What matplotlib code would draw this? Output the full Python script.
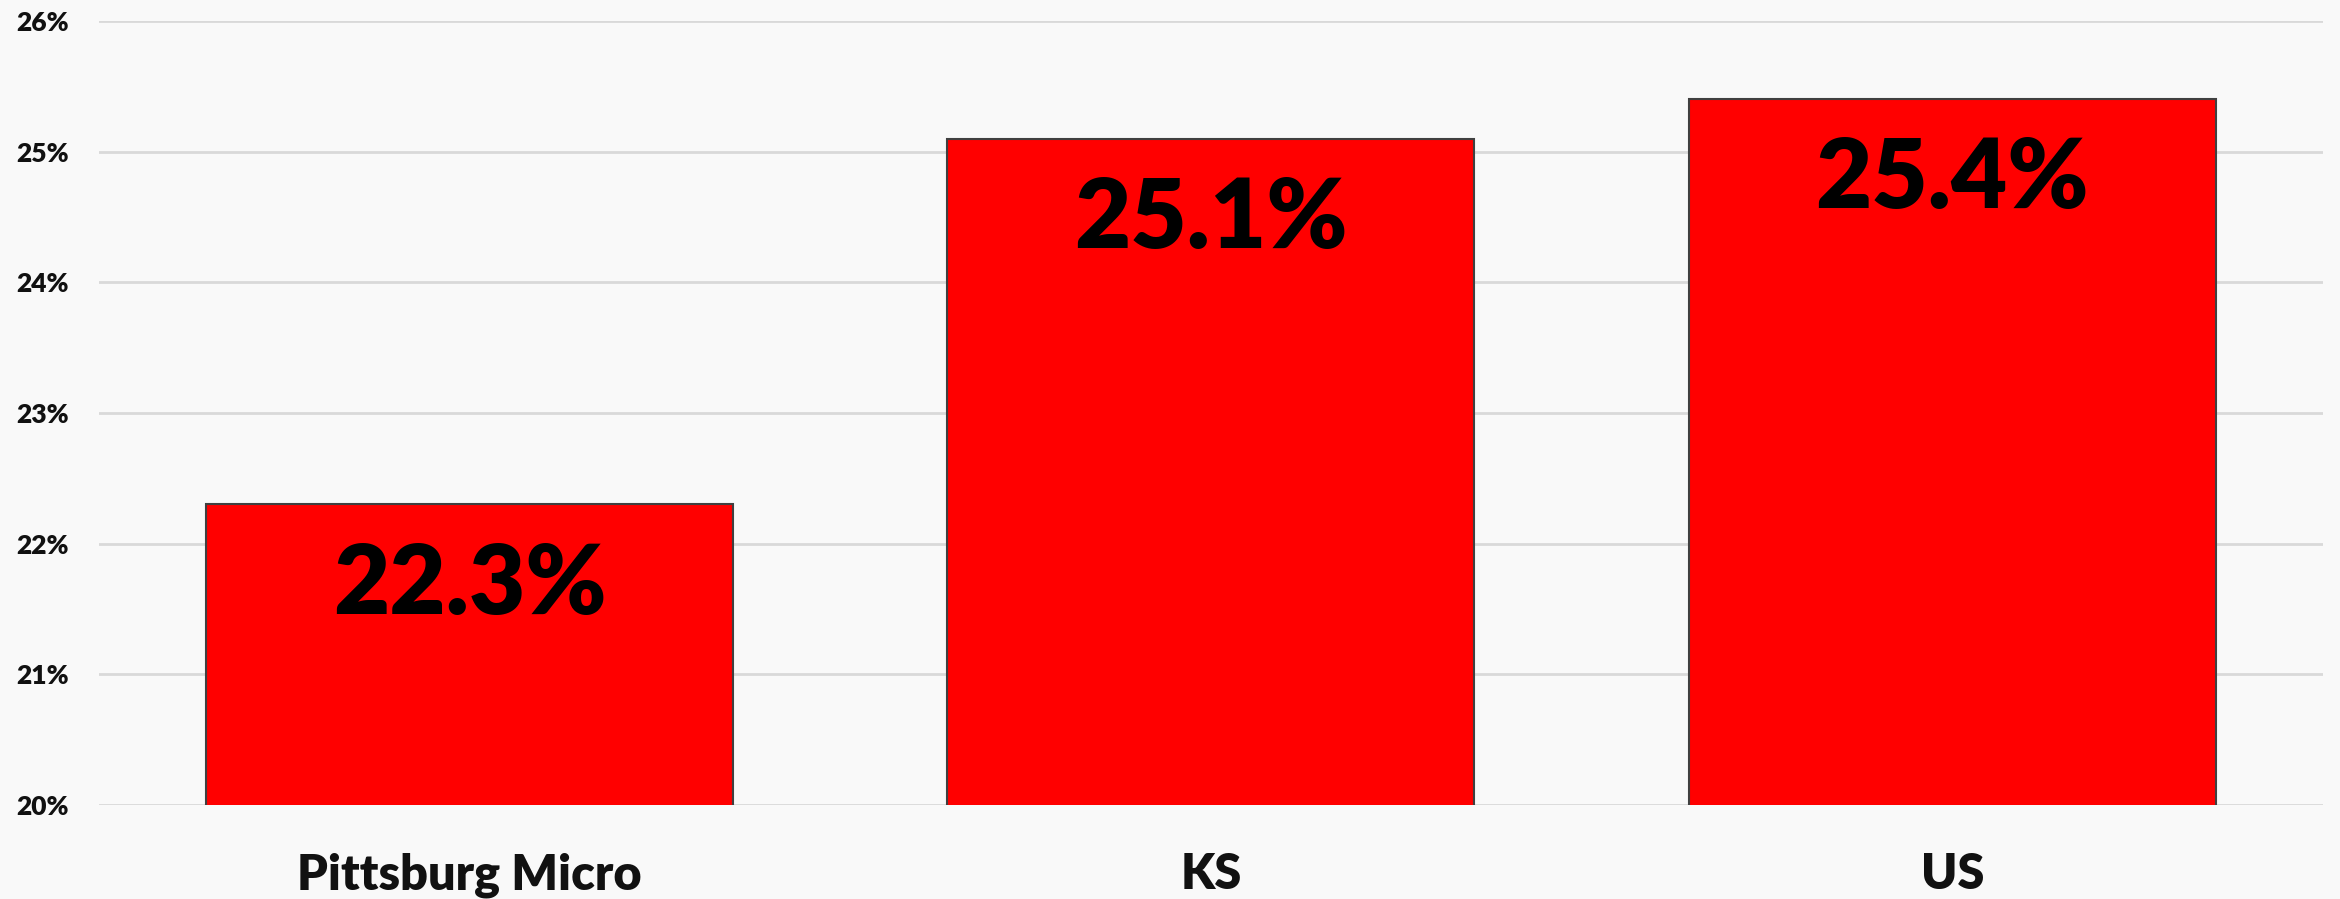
import matplotlib
matplotlib.use("Agg")
import matplotlib.pyplot as plt

categories = ["Pittsburg Micro", "KS", "US"]
values = [22.3, 25.1, 25.4]
y_ticks = [20, 21, 22, 23, 24, 25, 26]

plt.rcParams['font.family'] = ['Lato', 'DejaVu Sans']

fig = plt.figure(figsize=(23.4, 8.99), dpi=100, facecolor='#f9f9f9')
ax = fig.add_axes([0.0423, 0.1046, 0.9504, 0.872])
ax.set_facecolor('#f9f9f9')

x = range(len(categories))
bars = ax.bar(x, values, width=0.711, bottom=0, color='#ff0000',
              edgecolor='#404040', linewidth=1.5, zorder=3)

for xi, v in zip(x, values):
    ax.annotate(f"{v:.1f}%", xy=(xi, v), xytext=(0, -58),
                textcoords='offset points', ha='center', va='center',
                fontsize=70, fontweight='heavy', color='black', zorder=4)

ax.set_xlim(-0.5, len(categories) - 0.5)
ax.set_ylim(20, 26)
ax.set_yticks(y_ticks)
ax.set_yticklabels([f"{t}%" for t in y_ticks], fontsize=19, fontweight='heavy',
                   color='#111111')
ax.set_xticks(list(x))
ax.set_xticklabels(categories, fontsize=35, fontweight='heavy', color='#111111')

ax.grid(axis='y', color='#d9d9d9', linewidth=2, zorder=0)
ax.tick_params(axis='both', length=0)
ax.tick_params(axis='y', pad=22)
ax.tick_params(axis='x', pad=34)
for side in ['top', 'right', 'left', 'bottom']:
    ax.spines[side].set_visible(False)

fig.savefig("out.png", dpi=100, facecolor=fig.get_facecolor())
